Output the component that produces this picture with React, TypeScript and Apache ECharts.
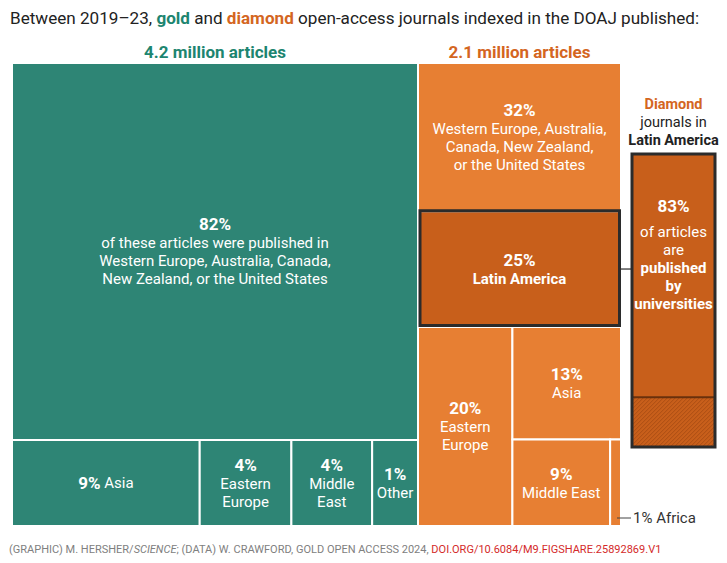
import React, { useEffect, useRef } from "react";
import * as echarts from "echarts";

const FONT = "Roboto, 'Noto Sans', sans-serif";

// Totals (million articles) per journal type
const journalTypes = ["gold", "diamond"];
const articlesMillions = [4.2, 2.1];
const headings = ["4.2 million articles", "2.1 million articles"];

// Gold open access: shares by region (areas) and printed labels
const goldPct = ["82%", "9%", "4%", "4%", "1%"];
const goldShare = [81.4, 8.6, 4.2, 3.7, 2.1];
const goldLines = [
  ["of these articles were published in", "Western Europe, Australia, Canada,", "New Zealand, or the United States"],
  ["Asia"],
  ["Eastern", "Europe"],
  ["Middle", "East"],
  ["Other"],
];

// Diamond open access: shares by region
const diamondPct = ["32%", "25%", "20%", "13%", "9%", "1%"];
const diamondShare = [32, 25, 20, 13, 9, 1];
const diamondLines = [
  ["Western Europe, Australia,", "Canada, New Zealand,", "or the United States"],
  ["Latin America"],
  ["Eastern", "Europe"],
  ["Asia"],
  ["Middle East"],
  ["Africa"],
];

// Diamond journals in Latin America: share of articles by publisher type
const latamPublisher = ["Universities", "Other publishers"];
const latamShare = [83, 17];
const latamPct = "83%";
const latamLines = ["of articles", "are", "published", "by", "universities"];

const GOLD = "#2e8575";
const GOLD_HEAD = "#1d8570";
const ORANGE = "#e77f33";
const ORANGE_HEAD = "#d4661f";
const LATAM = "#c85f1b";

const TXT = 15;
const PCT = 17;

type Cell = {
  x0: number; x1: number; y0: number; y1: number;
  fill: string; label: string; role: string; group: number;
};

const sum = (a: number[]) => a.reduce((s, v) => s + v, 0);

const pctLabel = (pct: string, lines: string[], style = "t") =>
  [`{p|${pct}}`, ...lines.map((l) => `{${style}|${l}}`)].join("\n");

function layout(): Cell[] {
  const cells: Cell[] = [];
  // gold
  const gx0 = 0;
  const gx1 = articlesMillions[0];
  const gTot = sum(goldShare);
  const topH = (goldShare[0] / gTot) * 100;
  cells.push({ x0: gx0, x1: gx1, y0: 0, y1: topH, fill: GOLD, label: pctLabel(goldPct[0], goldLines[0]), role: "top", group: 0 });
  const rest = goldShare.slice(1);
  const restSum = sum(rest);
  let cx = gx0;
  rest.forEach((v, i) => {
    const w = ((gx1 - gx0) * v) / restSum;
    const idx = i + 1;
    const label = idx === 1 ? `{p|${goldPct[idx]}} {t|${goldLines[idx].join(" ")}}` : pctLabel(goldPct[idx], goldLines[idx]);
    cells.push({ x0: cx, x1: cx + w, y0: topH, y1: 100, fill: GOLD, label, role: "cell", group: 0 });
    cx += w;
  });
  // diamond
  const dx0 = articlesMillions[0];
  const dx1 = articlesMillions[0] + articlesMillions[1];
  const s = diamondShare;
  const dTot = sum(s);
  const h0 = (s[0] / dTot) * 100;
  const h1 = (s[1] / dTot) * 100;
  cells.push({ x0: dx0, x1: dx1, y0: 0, y1: h0, fill: ORANGE, label: pctLabel(diamondPct[0], diamondLines[0]), role: "top", group: 1 });
  cells.push({ x0: dx0, x1: dx1, y0: h0, y1: h0 + h1, fill: LATAM, label: pctLabel(diamondPct[1], diamondLines[1], "b"), role: "latam", group: 1 });
  const yR = h0 + h1;
  const r1 = dTot - s[0] - s[1];
  const xe = dx0 + ((dx1 - dx0) * s[2]) / r1;
  cells.push({ x0: dx0, x1: xe, y0: yR, y1: 100, fill: ORANGE, label: pctLabel(diamondPct[2], diamondLines[2]), role: "cell", group: 1 });
  const r2 = r1 - s[2];
  const ya = yR + ((100 - yR) * s[3]) / r2;
  cells.push({ x0: xe, x1: dx1, y0: yR, y1: ya, fill: ORANGE, label: pctLabel(diamondPct[3], diamondLines[3]), role: "cell", group: 1 });
  const r3 = r2 - s[3];
  const xm = xe + ((dx1 - xe) * s[4]) / r3;
  cells.push({ x0: xe, x1: xm, y0: ya, y1: 100, fill: ORANGE, label: pctLabel(diamondPct[4], diamondLines[4]), role: "cell", group: 1 });
  cells.push({ x0: xm, x1: dx1, y0: ya, y1: 100, fill: ORANGE, label: `${diamondPct[5]} ${diamondLines[5][0]}`, role: "africa", group: 1 });
  return cells;
}

const richWhite = {
  p: { fontFamily: FONT, fontSize: PCT, fontWeight: "bold", lineHeight: 20, fill: "#fff" },
  t: { fontFamily: FONT, fontSize: TXT, lineHeight: 18, fill: "#fff" },
  b: { fontFamily: FONT, fontSize: TXT, fontWeight: "bold", lineHeight: 18, fill: "#fff" },
};

export default function App() {
  const ref = useRef<HTMLDivElement>(null);

  useEffect(() => {
    if (!ref.current) return;
    const chart = echarts.init(ref.current, undefined, { renderer: "svg" });
    const cells = layout();
    const total = articlesMillions[0] + articlesMillions[1];

    const mainRender = (params: any, api: any) => {
      const c = cells[params.dataIndex];
      const p0 = api.coord([api.value(0), api.value(2)]);
      const p1 = api.coord([api.value(1), api.value(3)]);
      const x = p0[0], y = p0[1], w = p1[0] - p0[0], h = p1[1] - p0[1];
      const children: any[] = [
        { type: "rect", shape: { x, y, width: w, height: h }, style: { fill: c.fill, stroke: "#fff", lineWidth: 2 } },
      ];
      if (c.role !== "africa") {
        children.push({
          type: "text", x: x + w / 2, y: y + h / 2, z2: 20,
          style: { text: c.label, align: "center", verticalAlign: "middle", fill: "#fff", fontFamily: FONT, fontSize: TXT, rich: richWhite },
        });
      } else {
        children.push({ type: "line", z2: 20, shape: { x1: x + w - 4, y1: y + h - 8, x2: x + w + 10, y2: y + h - 8 }, style: { stroke: "#444", lineWidth: 1 } });
        children.push({
          type: "text", x: x + w + 12, y: y + h - 8, z2: 20,
          style: { text: c.label, align: "left", verticalAlign: "middle", fill: "#333", fontFamily: FONT, fontSize: TXT },
        });
      }
      if (c.role === "top") {
        children.push({
          type: "text", x: x + w / 2, y: y - 11, z2: 20,
          style: {
            text: headings[c.group], align: "center", verticalAlign: "middle",
            fill: c.group === 0 ? GOLD_HEAD : ORANGE_HEAD, fontFamily: FONT, fontSize: 17, fontWeight: "bold",
          },
        });
      }
      if (c.role === "latam") {
        children.push({ type: "rect", z2: 15, shape: { x: x + 2, y: y - 0.5, width: w - 3.5, height: h - 1 }, style: { fill: "none", stroke: "#2b2b2b", lineWidth: 3 } });
        children.push({ type: "line", z2: 15, shape: { x1: x + w, y1: y + h / 2, x2: x + w + 11, y2: y + h / 2 }, style: { stroke: "#555", lineWidth: 1.5 } });
      }
      return { type: "group", children };
    };

    const sideCells = [
      [0, 1, 0, latamShare[0]],
      [0, 1, latamShare[0], latamShare[0] + latamShare[1]],
    ];

    const sideRender = (params: any, api: any) => {
      const i = params.dataIndex;
      const p0 = api.coord([api.value(0), api.value(2)]);
      const p1 = api.coord([api.value(1), api.value(3)]);
      const x = p0[0], y = p0[1], w = p1[0] - p0[0], h = p1[1] - p0[1];
      const children: any[] = [{ type: "rect", shape: { x, y, width: w, height: h }, style: { fill: LATAM } }];
      if (i === 0) {
        const cxm = x + w / 2;
        children.push({ type: "text", x: cxm, y: y - 49.5, style: { text: "Diamond", align: "center", verticalAlign: "middle", fill: ORANGE_HEAD, fontFamily: FONT, fontSize: 14.5, fontWeight: "bold" } });
        children.push({ type: "text", x: cxm, y: y - 31.5, style: { text: "journals in", align: "center", verticalAlign: "middle", fill: "#222", fontFamily: FONT, fontSize: 14.5 } });
        children.push({ type: "text", x: cxm, y: y - 13.5, style: { text: "Latin America", align: "center", verticalAlign: "middle", fill: "#222", fontFamily: FONT, fontSize: 14.5, fontWeight: "bold" } });
        const txt = [`{p|${latamPct}}`, ...latamLines.map((l, k) => `{${k < 2 ? "t" : "b"}|${l}}`)].join("\n");
        children.push({
          type: "text", x: cxm, y: y + 34.5, z2: 20,
          style: {
            text: txt, align: "center", verticalAlign: "top", fill: "#fff", fontFamily: FONT, fontSize: TXT,
            rich: { ...richWhite, p: { ...richWhite.p, lineHeight: 34 } },
          },
        });
      } else {
        // hatch
        const x1 = x + w, y1 = y + h;
        for (let c = x + y; c <= x1 + y1; c += 4) {
          const xa = Math.max(x, c - y1);
          const xb = Math.min(x1, c - y);
          if (xb > xa) {
            children.push({ type: "line", shape: { x1: xa, y1: c - xa, x2: xb, y2: c - xb }, style: { stroke: "rgba(120,45,5,0.35)", lineWidth: 1 } });
          }
        }
        children.push({ type: "line", z2: 10, shape: { x1: x, y1: y, x2: x1, y2: y }, style: { stroke: "#6a300c", lineWidth: 2 } });
        const b0 = api.coord([0, 0]);
        const b1 = api.coord([1, 100]);
        children.push({ type: "rect", z2: 15, shape: { x: b0[0], y: b0[1], width: b1[0] - b0[0], height: b1[1] - b0[1] }, style: { fill: "none", stroke: "#2b2b2b", lineWidth: 3 } });
      }
      return { type: "group", children };
    };

    chart.setOption({
      animation: false,
      backgroundColor: "#fff",
      grid: [
        { left: 12, top: 63, width: 609, height: 463 },
        { left: 632, top: 154, width: 83, height: 293 },
      ],
      xAxis: [
        { type: "value", gridIndex: 0, min: 0, max: total, show: false },
        { type: "value", gridIndex: 1, min: 0, max: 1, show: false },
      ],
      yAxis: [
        { type: "value", gridIndex: 0, min: 0, max: 100, inverse: true, show: false },
        { type: "value", gridIndex: 1, min: 0, max: 100, inverse: true, show: false },
      ],
      series: [
        {
          type: "custom", name: journalTypes.join("/"), xAxisIndex: 0, yAxisIndex: 0,
          renderItem: mainRender,
          data: cells.map((c) => [c.x0, c.x1, c.y0, c.y1]),
          encode: { x: [0, 1], y: [2, 3] },
        },
        {
          type: "custom", name: latamPublisher.join("/"), xAxisIndex: 1, yAxisIndex: 1,
          renderItem: sideRender,
          data: sideCells,
          encode: { x: [0, 1], y: [2, 3] },
        },
      ],
      graphic: [
        {
          type: "text", x: 10, y: 18,
          style: {
            text: "{n|Between 2019–23, }{g|gold}{n| and }{d|diamond}{n| open-access journals indexed in the DOAJ published:}",
            align: "left", verticalAlign: "middle", fontFamily: FONT, fontSize: 17, fill: "#222",
            rich: {
              n: { fontFamily: FONT, fontSize: 17.1, fill: "#222" },
              g: { fontFamily: FONT, fontSize: 17.1, fontWeight: "bold", fill: GOLD_HEAD },
              d: { fontFamily: FONT, fontSize: 17.1, fontWeight: "bold", fill: ORANGE_HEAD },
            },
          },
        },
        {
          type: "text", x: 9, y: 549,
          style: {
            text: "{n|(GRAPHIC) M. HERSHER/}{i|SCIENCE}{n|; (DATA) W. CRAWFORD, GOLD OPEN ACCESS 2024, }{r|DOI.ORG/10.6084/M9.FIGSHARE.25892869.V1}",
            align: "left", verticalAlign: "middle", fontFamily: FONT, fontSize: 11, fill: "#808080",
            rich: {
              n: { fontFamily: FONT, fontSize: 11, fill: "#808080" },
              i: { fontFamily: FONT, fontSize: 11, fontStyle: "italic", fill: "#808080" },
              r: { fontFamily: FONT, fontSize: 11, fill: "#d42a2a" },
            },
          },
        },
      ],
    });
    return () => chart.dispose();
  }, []);

  return (
    <div
      ref={ref}
      style={{ position: "absolute", left: 0, top: 0, width: 727, height: 563, background: "#fff" }}
    />
  );
}
